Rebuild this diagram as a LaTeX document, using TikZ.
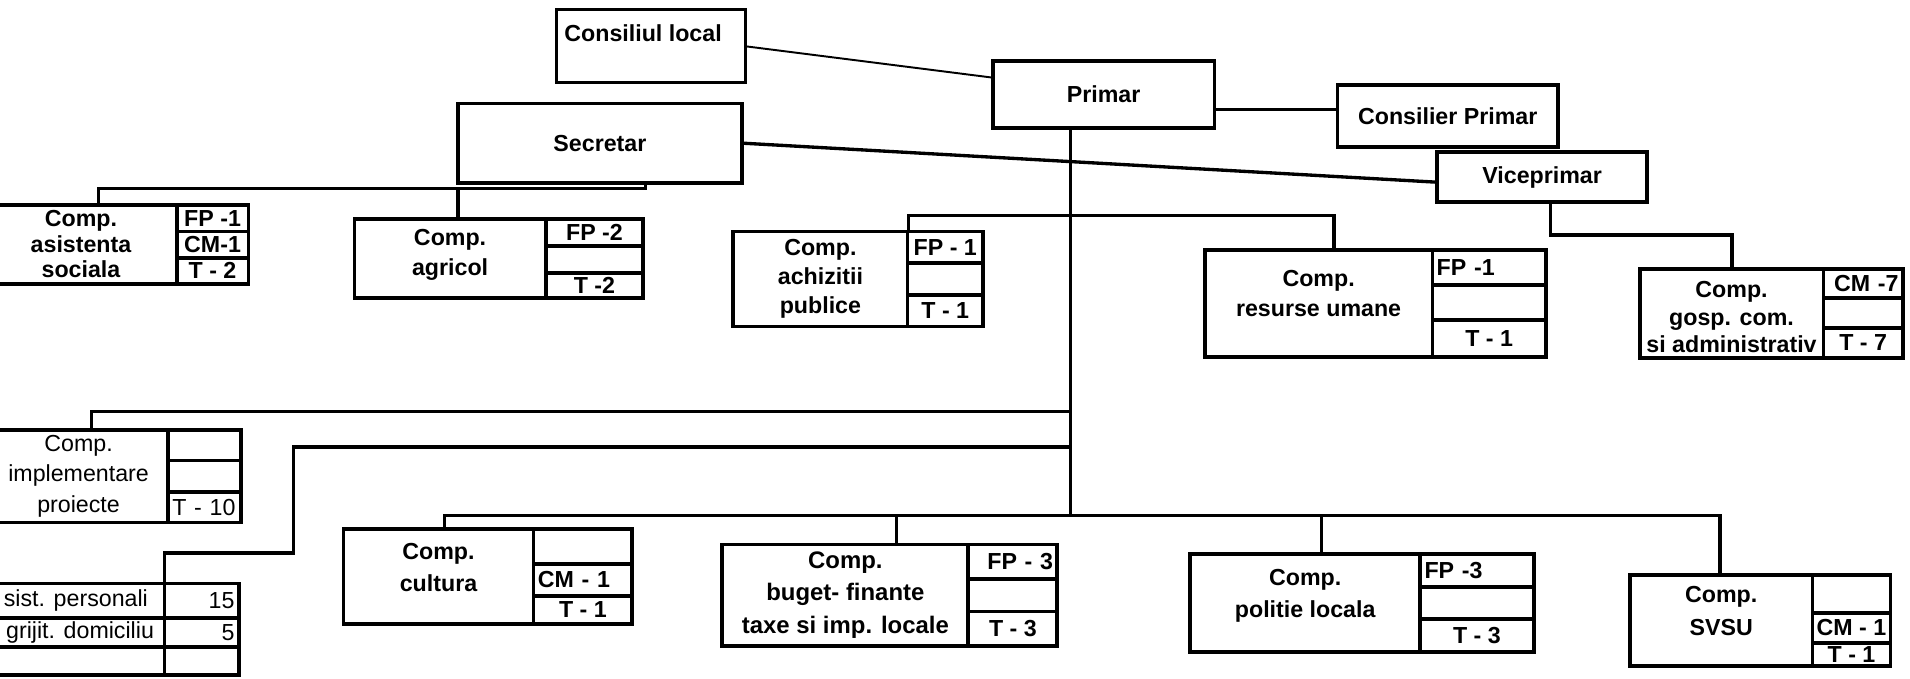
\documentclass[tikz,border=0pt]{standalone}
\usepackage{fontspec}
\setmainfont{Liberation Sans}
\usetikzlibrary{calc}
\newcommand\pxu{0.01218}
\tikzset{
  box/.style={draw, line width=1.1pt, inner sep=0pt, outer sep=0pt},
  txt/.style={align=center, inner sep=0pt, font=\bfseries\fontsize{6.6}{8.6}\selectfont},
  reg/.style={font=\fontsize{6.6}{8.6}\selectfont},
  cellbox/.style={draw, line width=1.1pt, inner sep=0pt, outer sep=0pt, align=center, font=\bfseries\fontsize{6.6}{7.5}\selectfont},
  cl/.style={align=left, text width=\tw pt, inner xsep=1.2pt},
  cr/.style={align=right, text width=\tw pt, inner xsep=1.2pt},
  conn/.style={line width=0.95pt},
  thinconn/.style={line width=0.55pt},
}
% #1 label opts, #2 name, #3 l, #4 t, #5 r, #6 b, #7 dx, #8 dy, #9 text
\newcommand\orgbox[9][]{%
  \pgfmathsetmacro\bw{(#5-#3)*\pxu}%
  \pgfmathsetmacro\bh{(#6-#4)*\pxu}%
  \pgfmathsetmacro\tdx{(#7)*\pxu}%
  \pgfmathsetmacro\tdy{-(#8)*\pxu}%
  \node[box, minimum width=\bw cm, minimum height=\bh cm,
        label={[txt, xshift=\tdx cm, yshift=\tdy cm, #1]center:{#9}}]
        (#2) at ({(#3+#5)/2},{(#4+#6)/2}) {};%
}
% #1 opts, #2 name, #3 l, #4 t, #5 r, #6 b, #7 text
\newcommand\orgcell[7][]{%
  \pgfmathsetmacro\bw{(#5-#3)*\pxu}%
  \pgfmathsetmacro\bh{(#6-#4)*\pxu}%
  \pgfmathsetmacro\tw{(#5-#3)*\pxu*28.4528-2.4}%
  \node[cellbox, minimum width=\bw cm, minimum height=\bh cm, #1]
        (#2) at ({(#3+#5)/2},{(#4+#6)/2}) {#7};%
}
\begin{document}
\begin{tikzpicture}[x=0.01218cm, y=-0.01218cm]
\useasboundingbox (0,0) rectangle (1568,557);
\fill[white] (0,0) rectangle (1568,557);
\clip (0,0) rectangle (1568,557);

% ---- top level
\node[box, line width=0.8pt, minimum width={155*\pxu cm}, minimum height={60*\pxu cm},
      label={[txt, anchor=north west, xshift=2pt, yshift=-4pt]north west:Consiliul local}]
      (cl) at (534.5,38) {};
\orgbox{primar}{815}{50}{997}{105}{0}{0}{Primar}
\orgbox{consilier}{1098}{70}{1279}{121}{0}{0}{Consilier Primar}
\orgbox{secretar}{376}{85}{609}{150}{0}{0}{Secretar}
\orgbox{vice}{1180}{125}{1352}{166}{0}{0}{Viceprimar}

% ---- components
\orgbox[font=\bfseries\fontsize{6.6}{7.2}\selectfont]{asist}{-12}{168}{145}{233}{0}{0}{Comp.\\asistenta\\sociala}
\orgcell{asistA}{145}{168}{204}{190}{FP -1}
\orgcell{asistB}{145}{190}{204}{211.5}{CM-1}
\orgcell{asistC}{145}{211.5}{204}{233}{T - 2}

\orgbox{agricol}{291}{180}{448}{245}{0}{-3}{Comp.\\agricol}
\orgcell{agricolA}{448}{180}{528}{202}{FP -2}
\orgcell{agricolB}{448}{202}{528}{224}{}
\orgcell{agricolC}{448}{224}{528}{245}{T -2}

\orgbox[font=\bfseries\fontsize{6.6}{8.2}\selectfont]{achiz}{602}{190}{745}{268}{0}{0}{Comp.\\achizitii\\publice}
\orgcell{achizA}{745}{190}{807}{216}{FP - 1}
\orgcell{achizB}{745}{216}{807}{242}{}
\orgcell{achizC}{745}{242}{807}{268}{T - 1}

\orgbox{resurse}{989}{205}{1176}{293}{0}{-8}{Comp.\\resurse umane}
\orgcell[cl]{resurseA}{1176}{205}{1269}{234}{FP -1}
\orgcell{resurseB}{1176}{234}{1269}{263}{}
\orgcell{resurseC}{1176}{263}{1269}{293}{T - 1}

\orgbox[font=\bfseries\fontsize{6.6}{7.8}\selectfont]{gosp}{1346}{221}{1497}{294}{0}{3}{Comp.\\gosp. com.\\si administrativ}
\orgcell[cr]{gospA}{1497}{221}{1562}{245}{CM -7}
\orgcell{gospB}{1497}{245}{1562}{269}{}
\orgcell{gospC}{1497}{269}{1562}{294}{T - 7}

\orgbox[reg]{impl}{-15}{353}{138}{429}{3}{0}{Comp.\\implementare\\proiecte}
\orgcell{implA}{138}{353}{198}{378}{}
\orgcell{implB}{138}{378}{198}{404}{}
\orgcell[cl,reg]{implC}{138}{404}{198}{429}{T - 10}

% table of personal assistants
\node[box, minimum width={147*\pxu cm}, minimum height={28*\pxu cm},
      label={[reg, inner sep=0pt, anchor=east, xshift=-13*\pxu cm]east:sist. personali}]
      (tabA) at (61.5,493) {};
\node[box, minimum width={147*\pxu cm}, minimum height={24*\pxu cm},
      label={[reg, inner sep=0pt, anchor=east, xshift=-8*\pxu cm]east:grijit. domiciliu}]
      (tabB) at (61.5,519) {};
\node[box, minimum width={147*\pxu cm}, minimum height={23*\pxu cm}] (tabC) at (61.5,542.5) {};
\orgcell[cr,reg]{tabAn}{135}{479}{196}{507}{15}
\orgcell[cr,reg]{tabBn}{135}{507}{196}{531}{5}
\orgcell{tabCn}{135}{531}{196}{554}{}

\orgbox[font=\bfseries\fontsize{6.6}{9}\selectfont]{cultura}{282}{434}{438}{512}{0}{-7}{Comp.\\cultura}
\orgcell{culturaA}{438}{434}{519}{463}{}
\orgcell[cl]{culturaB}{438}{463}{519}{489}{CM - 1}
\orgcell{culturaC}{438}{489}{519}{512}{T - 1}

\orgbox[font=\bfseries\fontsize{6.8}{9.2}\selectfont]{buget}{593}{447}{795}{530}{0}{0}{Comp.\\buget- finante\\taxe si imp. locale}
\orgcell[cr]{bugetA}{795}{447}{868}{475}{FP - 3}
\orgcell{bugetB}{795}{475}{868}{502}{}
\orgcell{bugetC}{795}{502}{868}{530}{T - 3}

\orgbox[font=\bfseries\fontsize{6.6}{9}\selectfont]{politie}{977}{455}{1166}{535}{0}{-6}{Comp.\\politie locala}
\orgcell[cl]{politieA}{1166}{455}{1259}{482}{FP -3}
\orgcell{politieB}{1166}{482}{1259}{508}{}
\orgcell{politieC}{1166}{508}{1259}{535}{T - 3}

\orgbox[font=\bfseries\fontsize{6.6}{9.2}\selectfont]{svsu}{1338}{472}{1488}{547}{0}{-8}{Comp.\\SVSU}
\orgcell{svsuA}{1488}{472}{1552}{503}{}
\orgcell{svsuB}{1488}{503}{1552}{528}{CM - 1}
\orgcell{svsuC}{1488}{528}{1552}{547}{T - 1}

% ---- connectors
\draw[thinconn] (cl.east) -- ($(primar.north west)!0.25!(primar.south west)$);
\coordinate (pc) at (0,90);
\draw[conn] (primar.east |- pc) -- (consilier.west |- pc);
\draw[conn] (secretar.east) -- ($(vice.north west)!0.6!(vice.south west)$);

% trunk from Primar
\coordinate (trk) at (879,423);
\draw[conn] (trk |- primar.south) -- (trk);

% Secretar branch
\coordinate (sb) at (530,155);
\coordinate (sbL) at (81,155);
\coordinate (sbA) at (376,155);
\draw[conn] (sb |- secretar.south) -- (sb) -- (sbL) -- (sbL |- asist.north);
\draw[conn] (sbA) -- (sbA |- agricol.north);

% achizitii / resurse branch
\coordinate (abL) at (746,177);
\coordinate (abR) at (1095,177);
\draw[conn] (abL |- achiz.north) -- (abL) -- (abR) -- (abR |- resurse.north);

% Viceprimar branch
\coordinate (vb) at (1273,193);
\coordinate (vbR) at (1422,193);
\draw[conn] (vb |- vice.south) -- (vb) -- (vbR) -- (vbR |- gosp.north);

% line A to implementare
\coordinate (aL) at (75,338);
\draw[conn] (trk |- aL) -- (aL) -- (aL |- impl.north);

% line B to assistants table
\coordinate (bT) at (241,367);
\coordinate (bB) at (241,454);
\coordinate (bL) at (135,454);
\draw[conn] (trk |- bT) -- (bT) -- (bB) -- (bL) -- (bL |- tabAn.north west);

% line C to bottom row
\coordinate (cL) at (365,423);
\coordinate (cR) at (1412,423);
\coordinate (c2) at (736,423);
\coordinate (c3) at (1085,423);
\draw[conn] (cL |- cultura.north) -- (cL) -- (cR) -- (cR |- svsu.north);
\draw[conn] (c2) -- (c2 |- buget.north);
\draw[conn] (c3) -- (c3 |- politie.north);
\end{tikzpicture}
\end{document}
